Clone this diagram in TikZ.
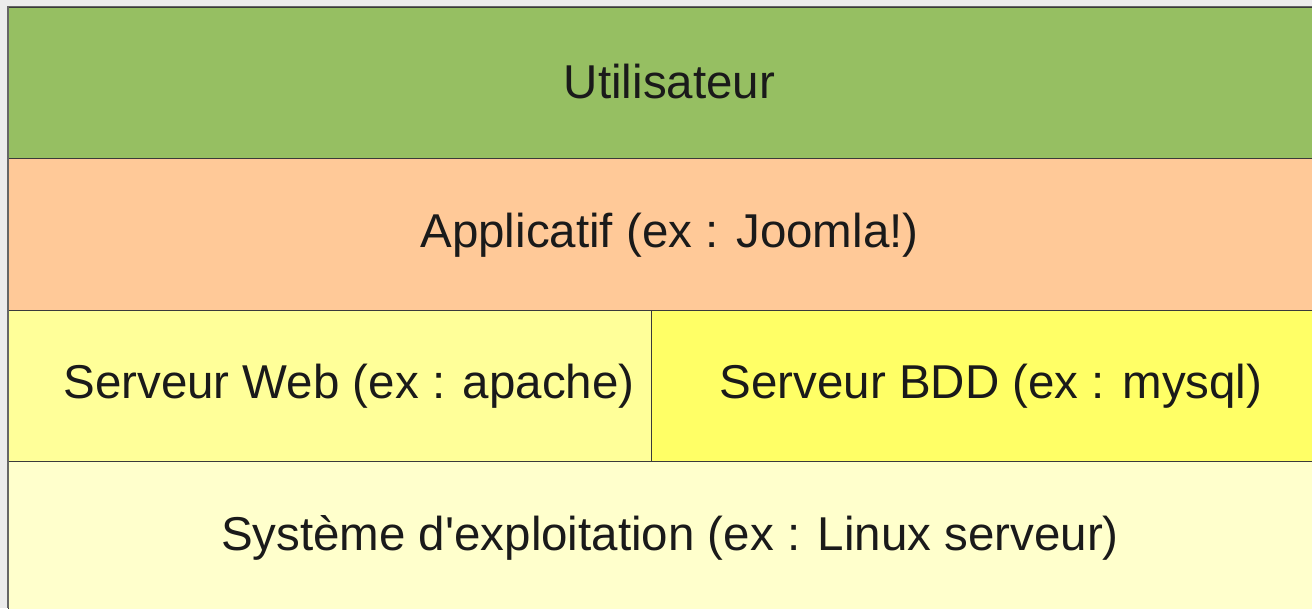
\documentclass[tikz,border=0pt]{standalone}
\usepackage{fontspec}
\setmainfont{Liberation Sans}
\definecolor{bgpage}{HTML}{ECECEC}
\definecolor{layergreen}{HTML}{96BF62}
\definecolor{layerorange}{HTML}{FFC998}
\definecolor{layerlight}{HTML}{FFFF99}
\definecolor{layeryellow}{HTML}{FFFF66}
\definecolor{layerpale}{HTML}{FFFFCC}
\definecolor{edge}{HTML}{3A3A3A}
\definecolor{ink}{HTML}{1A1A1A}
\begin{document}
\begin{tikzpicture}[x=1pt,y=-1pt,
  layer/.style={draw=edge,line width=1pt},
  label/.style={text=ink,font=\fontsize{47.5}{52}\selectfont,inner sep=0pt,anchor=center}]
\useasboundingbox (0,0) rectangle (1312,608);
\fill[bgpage] (0,0) rectangle (1312,608);
% stacked layers of the server architecture
\path[layer,fill=layergreen]  (8,7)   rectangle (1330,158);
\path[layer,fill=layerorange] (8,158) rectangle (1330,310);
\path[layer,fill=layerlight]  (8,310) rectangle (651,461);
\path[layer,fill=layeryellow] (651,310) rectangle (1330,461);
\path[layer,fill=layerpale]   (8,461) rectangle (1330,640);
% shaded outer edge on the left
\draw[gray!80!black,line width=2pt] (7.5,7) -- (7.5,608);
\draw[gray!80!black,line width=1.5pt] (7,6.5) -- (1312,6.5);
% layer captions
\node[label] (user) at (669.5,82)  {Utilisateur};
\node[label] (app)  at (669.5,235) {Applicatif (ex : Joomla!)};
\node[label] (web)  at (349,386)   {Serveur Web (ex : apache)};
\node[label] (bdd)  at (991,386)   {Serveur BDD (ex : mysql)};
\node[label] (os)   at (670,538)   {Système d\textquotesingle exploitation (ex : Linux serveur)};
\end{tikzpicture}
\end{document}
